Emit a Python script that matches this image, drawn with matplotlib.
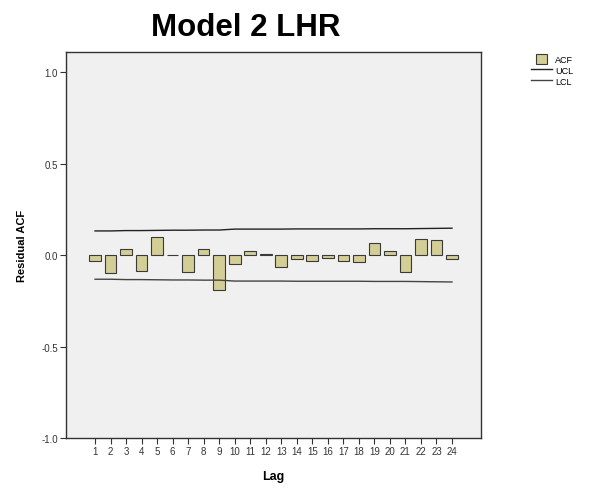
import matplotlib.pyplot as plt
from matplotlib.patches import Patch, Rectangle
from matplotlib.lines import Line2D
from matplotlib.legend_handler import HandlerPatch

# Residual ACF by lag
lags = list(range(1, 25))
acf = [-0.031, -0.100, 0.033, -0.086, 0.100, 0.003, -0.095, 0.033,
       -0.190, -0.051, 0.022, 0.005, -0.064, -0.024, -0.031, -0.018,
       -0.033, -0.040, 0.066, 0.022, -0.091, 0.089, 0.084, -0.022]
ucl = [0.132, 0.132, 0.134, 0.134, 0.135, 0.136, 0.136, 0.137,
       0.137, 0.142, 0.142, 0.142, 0.142, 0.143, 0.143, 0.143,
       0.143, 0.143, 0.144, 0.144, 0.144, 0.145, 0.146, 0.147]
lcl = [-0.132, -0.132, -0.134, -0.134, -0.135, -0.136, -0.136, -0.137,
       -0.137, -0.142, -0.142, -0.142, -0.142, -0.143, -0.143, -0.143,
       -0.143, -0.143, -0.144, -0.144, -0.144, -0.145, -0.146, -0.147]
yticks = [-1.0, -0.5, 0.0, 0.5, 1.0]

BAR_COLOR = '#d3cd96'
plt.rcParams['font.family'] = ['Liberation Sans', 'DejaVu Sans']


class SmallBox(HandlerPatch):
    """Legend swatch narrower than the line handles, as in SPSS output."""
    def create_artists(self, legend, orig_handle, xdescent, ydescent,
                       width, height, fontsize, trans):
        w = height * 1.3
        r = Rectangle((width / 2 - w / 2 - xdescent, -ydescent - height * 0.1),
                      w, height * 1.15, facecolor=BAR_COLOR,
                      edgecolor='#3a3a3a', linewidth=0.8, transform=trans)
        return [r]


fig = plt.figure(figsize=(5.89, 4.89), dpi=100)
ax = fig.add_axes([0.1121, 0.1022, 0.704, 0.789])
ax.set_facecolor('#f0f0f0')

ax.bar(lags, acf, width=0.75, color=BAR_COLOR, edgecolor='#3a3a3a', linewidth=0.8, zorder=2)
ax.plot(lags, ucl, color='#222222', linewidth=1.0, zorder=3)
ax.plot(lags, lcl, color='#444444', linewidth=1.0, zorder=3)

ax.set_xlim(-0.87, 25.85)
ax.set_ylim(-1.0, 1.109)
ax.set_xticks(lags)
ax.set_xticklabels([str(l) for l in lags])
ax.set_yticks(yticks)
ax.set_yticklabels([f'{v:.1f}' for v in yticks])
ax.tick_params(axis='both', labelsize=7, length=4, width=0.8, colors='#333333', pad=2)
for s in ax.spines.values():
    s.set_color('#333333')
    s.set_linewidth(1.0)

ax.set_xlabel('Lag', fontsize=9, fontweight='bold', labelpad=10)
ax.set_ylabel('Residual ACF', fontsize=8, fontweight='bold', labelpad=10)
fig.suptitle('Model 2 LHR', fontsize=22.5, fontweight='bold', x=0.418, y=0.974)

handles = [Patch(facecolor=BAR_COLOR, edgecolor='#3a3a3a', linewidth=0.8),
           Line2D([], [], color='#222222', linewidth=1.0),
           Line2D([], [], color='#444444', linewidth=1.0)]
fig.legend(handles, ['ACF', 'UCL', 'LCL'], loc='upper left',
           bbox_to_anchor=(0.894, 0.895), frameon=False, fontsize=6.5,
           handlelength=2.3, handleheight=1.0, labelspacing=0.2,
           handletextpad=0.35, borderpad=0,
           handler_map={Patch: SmallBox()})

fig.savefig('out.png', dpi=100)
